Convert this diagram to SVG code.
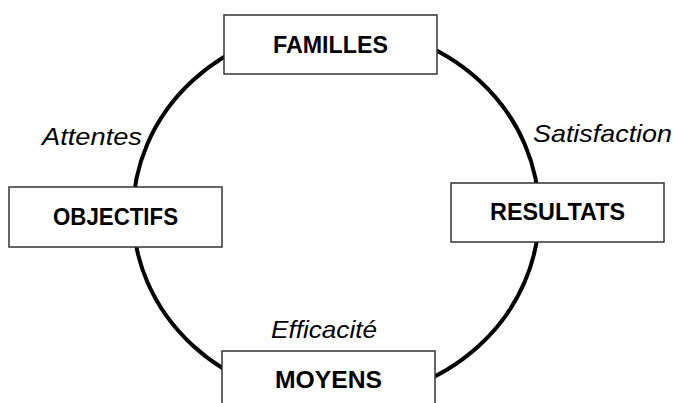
<svg xmlns="http://www.w3.org/2000/svg" width="673" height="403" viewBox="0 0 673 403">
<style>
.box{fill:#fff;stroke:#333;stroke-width:1.5}
.lbl{font-family:"Liberation Sans",Arial,sans-serif;font-weight:bold;font-size:24px;fill:#000;text-anchor:middle}
.it{font-family:"Liberation Sans",Arial,sans-serif;font-style:italic;font-size:24px;fill:#000}
.ring{fill:none;stroke:#000;stroke-width:4}
</style>
<rect width="673" height="403" fill="#fff"/>
<g id="connectors">
<ellipse class="ring" cx="336" cy="213" rx="203" ry="187"/>
<text class="it" x="42" y="145" textLength="100" lengthAdjust="spacingAndGlyphs">Attentes</text>
<text class="it" x="533" y="142" textLength="139" lengthAdjust="spacingAndGlyphs">Satisfaction</text>
<text class="it" x="271" y="338" textLength="106" lengthAdjust="spacingAndGlyphs">Efficacité</text>
</g>
<g id="familles">
<rect class="box" x="224" y="15" width="213" height="59"/>
<text class="lbl" x="330.5" y="53" textLength="115" lengthAdjust="spacingAndGlyphs">FAMILLES</text>
</g>
<g id="objectifs">
<rect class="box" x="9" y="187" width="213" height="60"/>
<text class="lbl" x="115.5" y="225" textLength="125" lengthAdjust="spacingAndGlyphs">OBJECTIFS</text>
</g>
<g id="resultats">
<rect class="box" x="451" y="183" width="213" height="59"/>
<text class="lbl" x="557.5" y="220" textLength="135" lengthAdjust="spacingAndGlyphs">RESULTATS</text>
</g>
<g id="moyens">
<rect class="box" x="222" y="351" width="213" height="70"/>
<text class="lbl" x="328.5" y="388" textLength="107" lengthAdjust="spacingAndGlyphs">MOYENS</text>
</g>
</svg>
